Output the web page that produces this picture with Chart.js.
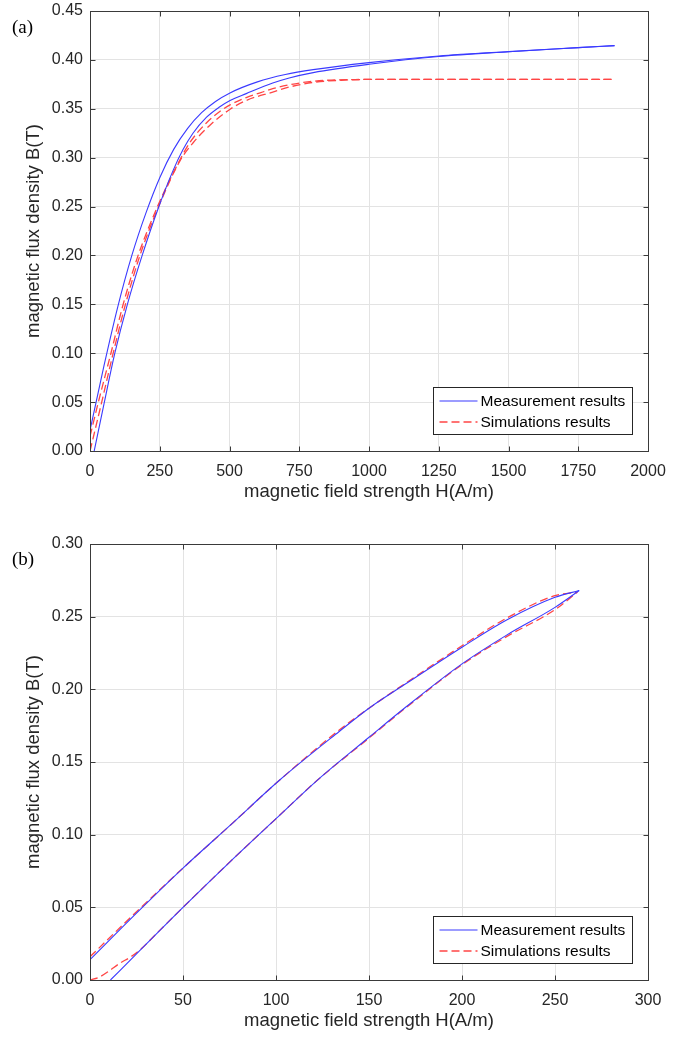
<!DOCTYPE html>
<html>
<head>
<meta charset="utf-8">
<script src="https://cdn.jsdelivr.net/npm/chart.js@4.4.1/dist/chart.umd.min.js"></script>
<style>
  html, body { margin: 0; padding: 0; background: #fff; overflow: hidden; }
  canvas { position: absolute; left: 0; }
  #chartA { top: 0; }
  #chartB { top: 529px; }
</style>
</head>
<body>
<canvas id="chartA" width="681" height="518"></canvas>
<canvas id="chartB" width="681" height="518"></canvas>
<script>
// ---- panel (a): full loop up to ~1880 A/m ----
const aXTicks = [0, 250, 500, 750, 1000, 1250, 1500, 1750, 2000];
const aYTicks = [0, 0.05, 0.10, 0.15, 0.20, 0.25, 0.30, 0.35, 0.40, 0.45];

// measurement, descending (upper) branch, listed by rising H
const aMeasUpH = [0, 50, 100, 150, 200, 250, 300, 350, 400, 450, 500, 600, 700, 800, 1000, 1250, 1500, 1750, 1880];
const aMeasUpB = [0.021, 0.087, 0.148, 0.200, 0.243, 0.2795, 0.3085, 0.330, 0.346, 0.3575, 0.366, 0.3775, 0.385, 0.390, 0.3972, 0.404, 0.4085, 0.4125, 0.4146];
// measurement, ascending (lower) branch
const aMeasLoH = [15, 50, 89, 134, 187, 243, 298, 333, 369, 417, 464, 502, 560, 655, 714, 800, 1000, 1250, 1500, 1750, 1880];
const aMeasLoB = [0, 0.048, 0.10, 0.15, 0.20, 0.247, 0.287, 0.308, 0.325, 0.3412, 0.3518, 0.3585, 0.3655, 0.3763, 0.3815, 0.387, 0.3955, 0.4035, 0.4083, 0.4125, 0.4146];
// simulation branches
const aSimUpH = [0, 30, 75, 117, 170, 245, 310, 357, 417, 464, 502, 560, 607, 655, 714, 780, 850, 950, 1000, 1500, 1870];
const aSimUpB = [0.015, 0.05, 0.10, 0.148, 0.198, 0.252, 0.291, 0.315, 0.3355, 0.347, 0.354, 0.3615, 0.366, 0.3705, 0.3745, 0.3775, 0.3792, 0.3799, 0.380, 0.380, 0.380];
const aSimLoH = [0, 42, 83, 127, 179, 246, 321, 369, 429, 502, 560, 655, 714, 800, 900, 1000, 1500, 1870];
const aSimLoB = [0, 0.05, 0.10, 0.15, 0.20, 0.25, 0.296, 0.315, 0.333, 0.3495, 0.3585, 0.3671, 0.3722, 0.377, 0.3792, 0.380, 0.380, 0.380];

// ---- panel (b): minor loop up to ~263 A/m ----
const bXTicks = [0, 50, 100, 150, 200, 250, 300];
const bYTicks = [0, 0.05, 0.10, 0.15, 0.20, 0.25, 0.30];

const bMeasUpH = [0, 25, 50, 75, 102, 134, 150, 170, 200, 224, 250, 263];
const bMeasUpB = [0.014, 0.046, 0.077, 0.106, 0.1376, 0.171, 0.187, 0.204, 0.229, 0.2477, 0.2633, 0.268];
const bMeasLoH = [11, 25, 50, 75, 100, 122, 150, 170, 200, 224, 250, 263];
const bMeasLoB = [0, 0.018, 0.050, 0.081, 0.111, 0.1372, 0.167, 0.188, 0.2175, 0.2373, 0.2564, 0.268];
const bSimUpH = [0, 25, 50, 75, 102, 134, 150, 170, 200, 224, 250, 262];
const bSimUpB = [0.016, 0.047, 0.077, 0.106, 0.1376, 0.172, 0.187, 0.2045, 0.230, 0.249, 0.2645, 0.2668];
const bSimLoH = [0, 5, 10, 16, 22, 28, 35, 50, 75, 100, 122, 150, 170, 200, 224, 250, 262];
const bSimLoB = [0, 0.002, 0.006, 0.0115, 0.016, 0.022, 0.031, 0.050, 0.081, 0.111, 0.1372, 0.1665, 0.1875, 0.217, 0.2363, 0.2548, 0.2668];

const measLabel = 'Measurement results';
const simLabel = 'Simulations results';

const textColor = '#262626';
const gridColor = '#e3e3e3';
const fontFamily = '"Liberation Sans", Arial, sans-serif';
Chart.defaults.font.family = fontFamily;

function branch(label, hs, bs, sim) {
  return {
    label: label,
    data: hs.map((h, i) => ({ x: h, y: bs[i] })),
    showLine: true,
    borderColor: sim ? '#ff4545' : '#3a3aff',
    borderWidth: sim ? 1.3 : 1.1,
    borderDash: sim ? [8, 4] : [],
    pointRadius: 0,
    fill: false,
    cubicInterpolationMode: 'monotone'
  };
}

// box around the plot with inward tick marks, MATLAB style
const axesBox = {
  id: 'axesBox',
  afterDraw(chart) {
    const { ctx, chartArea: a, scales: { x, y } } = chart;
    const l = Math.round(a.left) + 0.5, r = Math.round(a.right) + 0.5;
    const t = Math.round(a.top) + 0.5, b = Math.round(a.bottom) + 0.5;
    ctx.save();
    ctx.strokeStyle = '#3a3a3a';
    ctx.lineWidth = 1;
    ctx.beginPath();
    x.ticks.forEach(tk => {
      const px = Math.round(x.getPixelForValue(tk.value)) + 0.5;
      ctx.moveTo(px, b); ctx.lineTo(px, b - 5);
      ctx.moveTo(px, t); ctx.lineTo(px, t + 5);
    });
    y.ticks.forEach(tk => {
      const py = Math.round(y.getPixelForValue(tk.value)) + 0.5;
      ctx.moveTo(l, py); ctx.lineTo(l + 5, py);
      ctx.moveTo(r, py); ctx.lineTo(r - 5, py);
    });
    ctx.stroke();
    ctx.strokeRect(l, t, r - l, b - t);
    // panel letter
    const tag = chart.options.plugins.axesBox;
    ctx.fillStyle = '#000';
    ctx.font = '19px "Liberation Serif", "Times New Roman", serif';
    ctx.textBaseline = 'alphabetic';
    ctx.fillText(tag.text, 12, tag.y);
    ctx.restore();
  }
};

// legend box in the lower right corner of the plot
const boxLegend = {
  id: 'boxLegend',
  afterDraw(chart) {
    const { ctx, chartArea } = chart;
    const w = 199, h = 47;
    const left = Math.round(chartArea.right - 16 - w) + 0.5;
    const top = Math.round(chartArea.bottom - 17 - h) + 0.5;
    ctx.save();
    ctx.fillStyle = '#fff';
    ctx.fillRect(left, top, w, h);
    ctx.strokeStyle = '#262626';
    ctx.lineWidth = 1;
    ctx.strokeRect(left, top, w, h);
    const seen = new Set();
    const entries = chart.data.datasets.filter(d => !seen.has(d.label) && seen.add(d.label));
    entries.forEach((d, i) => {
      const yy = Math.round(top + 13 + i * 21.5);
      ctx.strokeStyle = d.borderColor;
      ctx.lineWidth = d.borderWidth;
      ctx.setLineDash(d.borderDash);
      ctx.beginPath();
      ctx.moveTo(left + 6, yy);
      ctx.lineTo(left + 44, yy);
      ctx.stroke();
      ctx.setLineDash([]);
      ctx.fillStyle = '#000';
      ctx.font = '15.5px ' + fontFamily;
      ctx.textBaseline = 'middle';
      ctx.fillText(d.label, left + 47, yy + 1);
    });
    ctx.restore();
  }
};

function buildChart(id, cfg) {
  return new Chart(document.getElementById(id), {
    type: 'scatter',
    data: {
      datasets: [
        branch(measLabel, cfg.measUpH, cfg.measUpB, false),
        branch(measLabel, cfg.measLoH, cfg.measLoB, false),
        branch(simLabel, cfg.simUpH, cfg.simUpB, true),
        branch(simLabel, cfg.simLoH, cfg.simLoB, true)
      ]
    },
    options: {
      responsive: false,
      animation: false,
      layout: { padding: { left: 0, right: 33, top: cfg.topPad, bottom: 0 } },
      plugins: {
        legend: { display: false },
        tooltip: { enabled: false },
        axesBox: { text: cfg.tag, y: cfg.tagY }
      },
      scales: {
        x: {
          type: 'linear',
          min: cfg.xTicks[0],
          max: cfg.xTicks[cfg.xTicks.length - 1],
          afterBuildTicks: s => { s.ticks = cfg.xTicks.map(v => ({ value: v })); },
          afterFit: s => { s.height = 67; s.paddingLeft = 0; s.paddingRight = 0; },
          ticks: { color: textColor, font: { size: 16 }, padding: 11, maxRotation: 0, callback: v => String(v) },
          grid: { color: gridColor, drawTicks: false },
          border: { display: false },
          title: {
            display: true, text: 'magnetic field strength H(A/m)',
            color: textColor, font: { size: 18.5 }, padding: { top: 0, bottom: 15 }
          }
        },
        y: {
          type: 'linear',
          min: cfg.yTicks[0],
          max: cfg.yTicks[cfg.yTicks.length - 1],
          afterBuildTicks: s => { s.ticks = cfg.yTicks.map(v => ({ value: v })); },
          afterFit: s => { s.width = 90; s.paddingTop = 0; s.paddingBottom = 0; },
          ticks: { color: textColor, font: { size: 16 }, padding: 7, callback: v => v.toFixed(2) },
          grid: { color: gridColor, drawTicks: false },
          border: { display: false },
          title: {
            display: true, text: 'magnetic flux density B(T)',
            color: textColor, font: { size: 18.5 }, padding: { top: 23, bottom: 0 }
          }
        }
      }
    },
    plugins: [axesBox, boxLegend]
  });
}

buildChart('chartA', {
  xTicks: aXTicks, yTicks: aYTicks, topPad: 11, tag: '(a)', tagY: 33,
  measUpH: aMeasUpH, measUpB: aMeasUpB, measLoH: aMeasLoH, measLoB: aMeasLoB,
  simUpH: aSimUpH, simUpB: aSimUpB, simLoH: aSimLoH, simLoB: aSimLoB
});

buildChart('chartB', {
  xTicks: bXTicks, yTicks: bYTicks, topPad: 15, tag: '(b)', tagY: 36,
  measUpH: bMeasUpH, measUpB: bMeasUpB, measLoH: bMeasLoH, measLoB: bMeasLoB,
  simUpH: bSimUpH, simUpB: bSimUpB, simLoH: bSimLoH, simLoB: bSimLoB
});
</script>
</body>
</html>
